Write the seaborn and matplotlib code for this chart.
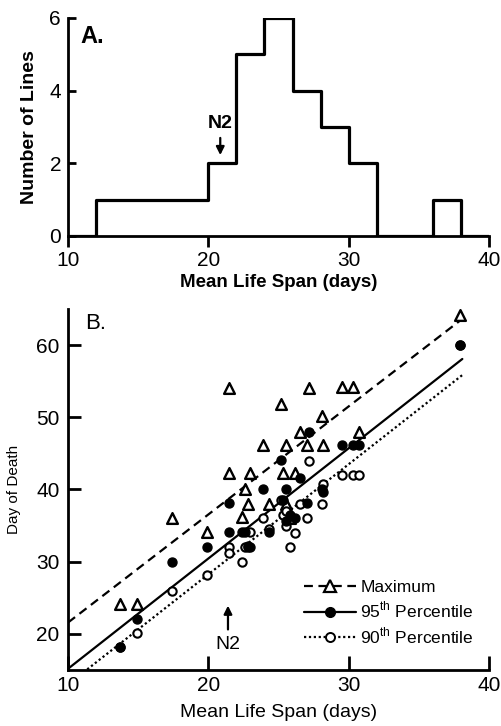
import numpy as np
import matplotlib
matplotlib.use("Agg")
import matplotlib.pyplot as plt
from matplotlib import font_manager
from matplotlib.lines import Line2D
import seaborn as sns

# mean life span of each of the 27 lines (days)
mean_life = [13.7, 14.9, 17.4, 19.9, 21.5, 21.5, 22.4, 22.6, 22.8, 23.0, 23.9, 24.3, 25.2, 25.3,
             25.5, 25.5, 25.8, 26.2, 26.5, 27.05, 27.2, 28.1, 28.2, 29.5, 30.3, 30.75, 37.9]
# day of death: maximum, 95th and 90th percentile
day_max = [24.2, 24.2, 36.0, 34.1, 54.0, 42.3, 36.2, 40.1, 38.0, 42.3, 46.1, 38.0, 51.9, 42.3,
           46.1, 38.0, 36.0, 42.3, 48.0, 46.1, 54.0, 50.2, 46.1, 54.2, 54.2, 48.0, 64.1]
day_p95 = [18.2, 22.1, 30.0, 32.1, 38.1, 34.1, 34.1, 34.1, 32.2, 32.0, 40.1, 34.1, 44.1, 38.5,
           40.1, 35.7, 36.5, 36.0, 41.6, 38.1, 48.0, 40.1, 39.6, 46.1, 46.1, 46.1, 60.0]
day_p90 = [18.2, 20.1, 26.0, 28.1, 32.1, 31.2, 30.0, 32.1, 32.0, 34.1, 36.1, 34.5, 38.5, 36.4,
           37.0, 35.0, 32.1, 34.0, 38.0, 36.0, 44.0, 38.0, 40.8, 42.0, 42.0, 42.0, 60.0]

hist_bins = list(range(10, 42, 2))

# regression lines (slope, intercept) as drawn in the figure
fit_max = (1.497, 6.6)
fit_p95 = (1.527, -0.1)
fit_p90 = (1.525, -2.25)
fit_x = [10, 38.1]

sns.set_style("ticks")
names = {f.name for f in font_manager.fontManager.ttflist}
fam = "Liberation Sans Narrow" if "Liberation Sans Narrow" in names else "Liberation Sans"
plt.rcParams["font.family"] = [fam, "DejaVu Sans"]
plt.rcParams["mathtext.fontset"] = "custom"
plt.rcParams["mathtext.rm"] = fam
plt.rcParams["axes.linewidth"] = 2.0
for k in ["text.color", "axes.labelcolor", "axes.edgecolor", "xtick.color", "ytick.color"]:
    plt.rcParams[k] = "black"

fig = plt.figure(figsize=(5.01, 7.26), dpi=100)
axA = fig.add_axes([68 / 501, 1 - 236 / 726, 421 / 501, 218 / 726])
axB = fig.add_axes([68 / 501, 1 - 670 / 726, 421 / 501, 361 / 726])

# Panel A - histogram
sns.histplot(x=mean_life, bins=hist_bins, element="step", fill=False, color="black",
             linewidth=2.3, ax=axA)
axA.set_xlim(10, 40)
axA.set_ylim(0, 6)
axA.set_xticks([10, 20, 30, 40])
axA.set_yticks([0, 2, 4, 6])
axA.tick_params(axis="x", direction="out", length=8, width=2, labelsize=15, pad=3)
axA.tick_params(axis="y", direction="in", length=6, width=2, labelsize=15, pad=5)
axA.set_xlabel("Mean Life Span (days)", fontsize=13.5, fontweight="bold", labelpad=3)
axA.set_ylabel("Number of Lines", fontsize=14, fontweight="bold", labelpad=8)
axA.text(0.03, 0.97, "A.", transform=axA.transAxes, fontsize=17, fontweight="bold",
         ha="left", va="top")
axA.annotate("N2", xy=(20.85, 2.15), xytext=(20.85, 3.1), ha="center", va="center",
             fontsize=14, fontweight="bold",
             arrowprops=dict(arrowstyle="-|>", color="black", lw=1.6, mutation_scale=12))
sns.despine(ax=axA)

# Panel B - scatter with fitted lines
styles = [(fit_max, (0, (4, 2.5))), (fit_p95, "-"), (fit_p90, (0, (1, 1.2)))]
for (slope, icpt), ls in styles:
    xs = np.array(fit_x)
    sns.lineplot(x=xs, y=slope * xs + icpt, color="black", linestyle=ls, linewidth=1.6,
                 ax=axB)

sns.scatterplot(x=mean_life, y=day_max, marker="^", color="white", edgecolor="black",
                linewidth=1.7, s=60, zorder=3, ax=axB)
sns.scatterplot(x=mean_life, y=day_p90, marker="o", color="white", edgecolor="black",
                linewidth=1.5, s=36, zorder=4, ax=axB)
sns.scatterplot(x=mean_life, y=day_p95, marker="o", color="black", edgecolor="black",
                linewidth=1.0, s=42, zorder=5, ax=axB)

axB.set_xlim(10, 40)
axB.set_ylim(15, 65)
axB.set_xticks([10, 20, 30, 40])
axB.set_yticks([20, 30, 40, 50, 60])
axB.tick_params(axis="x", direction="in", length=10, width=2, labelsize=15, pad=4)
axB.tick_params(axis="y", direction="in", length=9, width=2, labelsize=15, pad=6)
axB.set_xlabel("Mean Life Span (days)", fontsize=14, labelpad=7)
axB.set_ylabel("Day of Death", fontsize=11, labelpad=11)
axB.text(0.04, 0.99, "B.", transform=axB.transAxes, fontsize=16, ha="left", va="top")
axB.annotate("N2", xy=(21.4, 24.3), xytext=(21.4, 18.6), ha="center", va="center",
             fontsize=14,
             arrowprops=dict(arrowstyle="-|>", color="black", lw=1.6, mutation_scale=12))

handles = [
    Line2D([], [], color="black", ls=(0, (4, 2.5)), lw=1.6, marker="^", mfc="white",
           mec="black", ms=8, mew=1.6),
    Line2D([], [], color="black", ls="-", lw=1.6, marker="o", mfc="black", mec="black", ms=7),
    Line2D([], [], color="black", ls=(0, (1, 1.2)), lw=1.6, marker="o", mfc="white",
           mec="black", ms=6.5, mew=1.4),
]
labels = ["Maximum", "95$^{\\rm th}$ Percentile", "90$^{\\rm th}$ Percentile"]
axB.legend(handles, labels, loc="upper left", bbox_to_anchor=(0.56, 0.25), frameon=False,
           fontsize=12.5, handlelength=3.0, handletextpad=0.25, labelspacing=0.3,
           borderpad=0, borderaxespad=0, numpoints=1)
sns.despine(ax=axB)

fig.savefig("out.png", dpi=100)
